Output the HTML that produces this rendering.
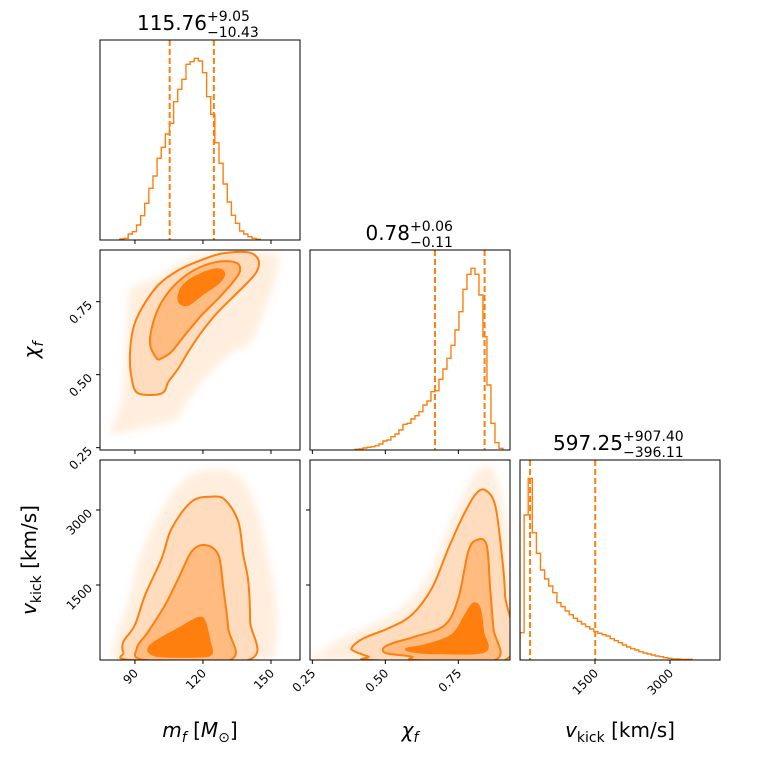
<!DOCTYPE html>
<html><head><meta charset="utf-8"><style>
html,body{margin:0;padding:0;background:#fff;}
svg{display:block;font-family:"DejaVu Sans","Liberation Sans",sans-serif;}
</style></head><body>
<svg id="c" width="760" height="760" viewBox="0 0 760 760" xmlns="http://www.w3.org/2000/svg">
<defs><filter id="blur" x="-20%" y="-20%" width="140%" height="140%"><feGaussianBlur stdDeviation="4"/></filter></defs>
</svg>
<script>
// ---- data ----
const mfRange=[74.6,162.8], chiRange=[0.242,0.927], vRange=[0,4000];
const mfHistStart=83.4, mfHistWidth=1.82;
const mfHistCounts=[3,5,18,25,45,73,110,155,192,245,278,318,350,415,452,482,527,535,545,537,502,430,377,292,230,168,114,74,50,27,18,10,5,2];
const chiHistStart=0.396, chiHistWidth=0.0137;
const chiHistCounts=[2,3,6,8,10,13,18,27,30,40,48,60,77,80,93,103,115,135,147,175,178,212,243,275,314,360,415,482,527,545,527,465,340,195,80,22,5];
const vHistStart=0, vHistWidth=82;
const vHistCounts=[82,435,545,382,320,270,243,222,202,172,160,147,136,125,116,108,100,93,85,80,76,72,64,58,52,45,39,34,30,25,21,18,15,12,10,7,5,3,3,2,2,2];
const mfQuantiles=[105.33,124.81], chiQuantiles=[0.67,0.84], vQuantiles=[201.14,1504.65];
const mfTicks=[90,120,150], chiTicks=[0.25,0.50,0.75], vTicks=[1500,3000];
const mfTickLabels=["90","120","150"], chiTickLabels=["0.25","0.50","0.75"], vTickLabels=["1500","3000"];

const mcScatter=[[78.8,0.300],[82.7,0.373],[84.9,0.465],[87.1,0.739],[88.6,0.796],[98.9,0.830],[110.6,0.887],[121.0,0.915],[150.8,0.912],[152.7,0.853],[146.9,0.716],[141.0,0.612],[131.2,0.567],[120.9,0.487],[112.1,0.396],[107.7,0.345],[91.5,0.315],[82.2,0.300]];
const mcOuter=[[91.5,0.436],[88.6,0.487],[87.8,0.567],[89.3,0.659],[93.0,0.727],[100.3,0.807],[109.2,0.858],[119.5,0.893],[128.3,0.915],[140.0,0.919],[144.5,0.893],[143.7,0.853],[140.0,0.818],[134.2,0.773],[126.8,0.716],[119.5,0.647],[113.6,0.579],[109.2,0.522],[104.8,0.476],[101.8,0.436]];
const mcMiddle=[[99.6,0.556],[96.7,0.602],[97.4,0.659],[100.3,0.727],[106.2,0.796],[115.0,0.853],[125.3,0.885],[134.2,0.885],[136.4,0.858],[133.4,0.818],[126.8,0.761],[119.5,0.704],[112.1,0.636],[106.2,0.579],[101.8,0.556]];
const mcInner=[[109.9,0.744],[109.2,0.773],[112.1,0.813],[119.5,0.847],[126.8,0.862],[129.5,0.844],[126.8,0.813],[119.5,0.773],[113.6,0.739]];

const mvScatter=[[80.3,200],[87.1,1167],[92.5,2100],[101.8,3000],[110.6,3550],[120.9,3800],[135.1,3700],[143.9,3000],[148.3,2100],[151.8,1300],[151.8,200],[143,0],[86.6,0]];
const mvOuter=[[88.6,0],[84.9,150],[84.9,367],[90.0,700],[94.5,1300],[101.8,2033],[106.2,2633],[115.0,3167],[123.9,3267],[129.8,3200],[135.6,2767],[137.8,2100],[140.0,1567],[140.8,767],[140.0,0]];
const mvMiddle=[[94.5,0],[90.8,233],[95.9,567],[103.3,1100],[109.2,1633],[115.0,2167],[120.9,2300],[126.8,2100],[129.0,1433],[131.2,633],[131.9,0]];
const mvInner=[[95.9,233],[98.9,367],[109.2,633],[118.0,847],[120.9,767],[123.1,367],[123.9,133],[119.5,67],[101.8,67],[96.7,133]];

const cvScatter=[[0.286,167],[0.339,400],[0.453,700],[0.567,1100],[0.659,1800],[0.727,2800],[0.796,3600],[0.830,3850],[0.870,3800],[0.905,3100],[0.925,2100],[0.925,0],[0.281,0]];
const cvOuter=[[0.385,247],[0.425,433],[0.510,633],[0.590,900],[0.659,1433],[0.716,2233],[0.762,2833],[0.807,3300],[0.841,3400],[0.876,3100],[0.899,2100],[0.910,1300],[0.910,0],[0.453,0],[0.442,67],[0.396,167]];
const cvMiddle=[[0.493,233],[0.522,333],[0.602,467],[0.704,700],[0.750,1233],[0.784,2167],[0.813,2400],[0.847,2300],[0.859,1433],[0.870,633],[0.876,0],[0.602,0],[0.590,67],[0.505,133]];
const cvInner=[[0.573,233],[0.636,300],[0.727,500],[0.773,900],[0.801,1133],[0.824,1033],[0.836,567],[0.841,167],[0.682,133],[0.590,167]];

// ---- helpers ----
const NS="http://www.w3.org/2000/svg", svg=document.getElementById('c');
const OR="#ff7f0e";
function mk(tag,attrs,parent){const e=document.createElementNS(NS,tag);for(const k in attrs)e.setAttribute(k,attrs[k]);(parent||svg).appendChild(e);return e;}
function lin(d,r){return v=>r[0]+(v-d[0])/(d[1]-d[0])*(r[1]-r[0]);}
const P={c0:[100,300],c1:[310,510],c2:[520,720],r0:[40,240],r1:[250,450],r2:[460,660]};
function smooth(pts){const n=pts.length;let d=`M${pts[0][0]},${pts[0][1]}`;
 for(let i=0;i<n;i++){const p0=pts[(i-1+n)%n],p1=pts[i],p2=pts[(i+1)%n],p3=pts[(i+2)%n];
  const c1=[p1[0]+(p2[0]-p0[0])/6,p1[1]+(p2[1]-p0[1])/6],c2=[p2[0]-(p3[0]-p1[0])/6,p2[1]-(p3[1]-p1[1])/6];
  d+=`C${c1[0].toFixed(1)},${c1[1].toFixed(1)} ${c2[0].toFixed(1)},${c2[1].toFixed(1)} ${p2[0].toFixed(1)},${p2[1].toFixed(1)}`;}
 return d+'Z';}

function histPanel(name,col,row,range,start,width,counts,quant){
 const g=mk('g',{});
 
 
 const x=lin(range,col), y=lin([0,600],[row[1],row[0]]);
 mk('clipPath',{id:'cl'+name},g); mk('rect',{x:col[0],y:row[0],width:200,height:200},g.lastChild);
 let d=`M${x(start)},${y(0)}`;
 counts.forEach((c,i)=>{d+=`L${x(start+i*width)},${y(c)}L${x(start+(i+1)*width)},${y(c)}`;});
 d+=`L${x(start+counts.length*width)},${y(0)}`;
 const p=mk('path',{d,fill:'none',stroke:OR,'stroke-width':1.4,'clip-path':`url(#cl${name})`},g);
 
 
 quant.forEach((q,i)=>{const l=mk('line',{x1:x(q),x2:x(q),y1:row[0],y2:row[1],stroke:OR,'stroke-width':2,'stroke-dasharray':'6,3'},g);
  
  });
 frame(g,col,row);
 return g;}

function frame(g,col,row){const r=mk('rect',{x:col[0],y:row[0],width:col[1]-col[0],height:row[1]-row[0],fill:'none',stroke:'#000','stroke-width':1},g);
 
 }

function contourPanel(name,col,row,xr,yr,sc,outer,middle,inner){
 const g=mk('g',{});
 
 
 const x=lin(xr,col), y=lin(yr,[row[1],row[0]]);
 const cp=mk('clipPath',{id:'cc'+name},g); mk('rect',{x:col[0],y:row[0],width:200,height:200},cp);
 const inner2=mk('g',{'clip-path':`url(#cc${name})`},g);
 const tr=a=>a.map(p=>[x(p[0]),y(p[1])]);
 const s=mk('path',{d:smooth(tr(sc)),fill:OR,'fill-opacity':0.13,filter:'url(#blur)'},inner2);
 
 
 const o=mk('path',{d:smooth(tr(outer)),fill:'#ffdcbe',stroke:OR,'stroke-width':2},inner2);
 
 
 const m=mk('path',{d:smooth(tr(middle)),fill:'#ffbb80',stroke:OR,'stroke-width':2},inner2);
 
 
 const n=mk('path',{d:smooth(tr(inner)),fill:OR,stroke:OR,'stroke-width':1.5},inner2);
 
 
 frame(g,col,row);}

function xTicks(col,row,range,ticks,labels,show){const x=lin(range,col);
 ticks.forEach((t,i)=>{mk('line',{x1:x(t),x2:x(t),y1:row[1],y2:row[1]+4,stroke:'#000'});
  if(show){const tx=mk('text',{x:x(t)+4,y:row[1]+14,'font-size':12,'text-anchor':'end',transform:`rotate(-45 ${x(t)+4} ${row[1]+14})`});
   tx.textContent=labels[i];
   
   }});}
function yTicks(col,row,range,ticks,labels,show){const y=lin(range,[row[1],row[0]]);
 ticks.forEach((t,i)=>{mk('line',{x1:col[0]-4,x2:col[0],y1:y(t),y2:y(t),stroke:'#000'});
  if(show){const tx=mk('text',{x:col[0]-7,y:y(t)+4,'font-size':12,'text-anchor':'end',transform:`rotate(-45 ${col[0]-7} ${y(t)+4})`});
   tx.textContent=labels[i];
   
   }});}

// ---- draw ----
histPanel('mf',P.c0,P.r0,mfRange,mfHistStart,mfHistWidth,mfHistCounts,mfQuantiles);
histPanel('chi',P.c1,P.r1,chiRange,chiHistStart,chiHistWidth,chiHistCounts,chiQuantiles);
histPanel('vkick',P.c2,P.r2,vRange,vHistStart,vHistWidth,vHistCounts,vQuantiles);
contourPanel('mf-chi',P.c0,P.r1,mfRange,chiRange,mcScatter,mcOuter,mcMiddle,mcInner);
contourPanel('mf-vkick',P.c0,P.r2,mfRange,vRange,mvScatter,mvOuter,mvMiddle,mvInner);
contourPanel('chi-vkick',P.c1,P.r2,chiRange,vRange,cvScatter,cvOuter,cvMiddle,cvInner);

xTicks(P.c0,P.r0,mfRange,mfTicks,mfTickLabels,false);
xTicks(P.c0,P.r1,mfRange,mfTicks,mfTickLabels,false);
xTicks(P.c0,P.r2,mfRange,mfTicks,mfTickLabels,true);
xTicks(P.c1,P.r1,chiRange,chiTicks,chiTickLabels,false);
xTicks(P.c1,P.r2,chiRange,chiTicks,chiTickLabels,true);
xTicks(P.c2,P.r2,vRange,vTicks,vTickLabels,true);
yTicks(P.c0,P.r1,chiRange,chiTicks,chiTickLabels,true);
yTicks(P.c0,P.r2,vRange,vTicks,vTickLabels,true);
yTicks(P.c1,P.r2,vRange,vTicks,vTickLabels,false);
</script>
<script>
const s2=document.getElementById('c');
s2.insertAdjacentHTML('beforeend',`
<g>
<text x="207" y="30" font-size="20" text-anchor="end">115.76</text>
<text x="207" y="21" font-size="14">+9.05</text>
<text x="207" y="37" font-size="14">−10.43</text></g>
<g>
<text x="410" y="240" font-size="20" text-anchor="end">0.78</text>
<text x="410" y="231" font-size="14">+0.06</text>
<text x="410" y="247" font-size="14">−0.11</text></g>
<g>
<text x="623" y="450" font-size="20" text-anchor="end">597.25</text>
<text x="623" y="441" font-size="14">+907.40</text>
<text x="623" y="457" font-size="14">−396.11</text></g>
<text x="200" y="737" font-size="20" text-anchor="middle"><tspan font-style="italic">m</tspan><tspan font-size="14" font-style="italic" dy="5">f</tspan><tspan dy="-5"> [</tspan><tspan font-style="italic">M</tspan><tspan font-size="14" dy="5">⊙</tspan><tspan dy="-5">]</tspan></text>
<text x="410" y="737" font-size="20" text-anchor="middle"><tspan font-style="italic">χ</tspan><tspan font-size="14" font-style="italic" dy="5">f</tspan></text>
<text x="620" y="737" font-size="20" text-anchor="middle"><tspan font-style="italic">v</tspan><tspan font-size="14" dy="5">kick</tspan><tspan dy="-5"> [km/s]</tspan></text>
<text x="38" y="350" font-size="20" text-anchor="middle" transform="rotate(-90 38 350)"><tspan font-style="italic">χ</tspan><tspan font-size="14" font-style="italic" dy="5">f</tspan></text>
<text x="36" y="560" font-size="20" text-anchor="middle" transform="rotate(-90 36 560)"><tspan font-style="italic">v</tspan><tspan font-size="14" dy="5">kick</tspan><tspan dy="-5"> [km/s]</tspan></text>
`);
</script>
</body></html>
